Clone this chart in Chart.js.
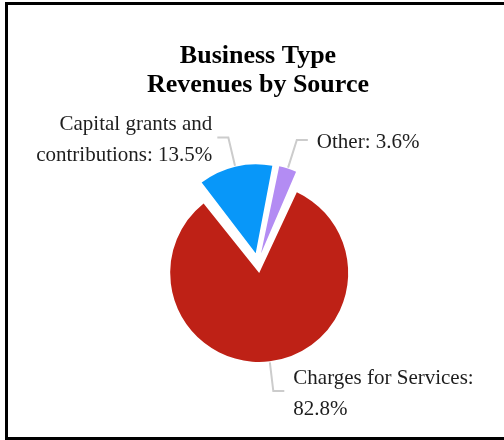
<!DOCTYPE html>
<html>
<head>
<meta charset="utf-8">
<title>Business Type Revenues by Source</title>
<script src="https://cdn.jsdelivr.net/npm/chart.js@4.4.1/dist/chart.umd.min.js"></script>
<style>
  html, body { margin: 0; padding: 0; background: #fff; }
  #wrap { position: relative; width: 504px; height: 440px; overflow: hidden; }
  canvas { display: block; }
  /* frame runs off the right edge */
  #frame {
    position: absolute; left: 5px; top: 2px; width: 510px; height: 432px;
    border: 3px solid #000; border-right: none; pointer-events: none;
  }
</style>
</head>
<body>
<div id="wrap">
  <canvas id="chart" width="504" height="440"></canvas>
  <div id="frame"></div>
</div>
<script>
const TITLE = ["Business Type", "Revenues by Source"];
const SOURCES = ["Charges for Services", "Capital grants and contributions", "Other"];
const SHARES = [82.8, 13.5, 3.6];
const COLORS = ["#be2116", "#0897f9", "#b38cf3"];
// label text per slice, {v} gets the share
const LABEL_LINES = [
  ["Charges for Services:", "{v}%"],
  ["Capital grants and", "contributions: {v}%"],
  ["Other: {v}%"],
];

const RADIUS = 89;
const PULL = 10; // how far each slice is pulled out

// Chart.js grows small pulled-out arcs a bit; keep every slice at RADIUS
const evenPull = {
  id: "evenPull",
  afterDatasetUpdate(chart, args) {
    args.meta.data.forEach(arc => {
      const fix = 1 - Math.sin(Math.min(Math.PI, arc.circumference));
      arc.outerRadius = RADIUS - PULL * fix;
    });
  }
};

// leader lines with the labels at their ends
const leaderLabels = {
  id: "leaderLabels",
  afterDatasetsDraw(chart) {
    const ctx = chart.ctx;
    const arcs = chart.getDatasetMeta(0).data;
    ctx.save();
    ctx.font = "21px 'Liberation Serif', 'Times New Roman', serif";
    ctx.textBaseline = "alphabetic";
    arcs.forEach((arc, i) => {
      const mid = (arc.startAngle + arc.endAngle) / 2;
      const cos = Math.cos(mid), sin = Math.sin(mid);
      const cx = arc.x + cos * PULL, cy = arc.y + sin * PULL;
      const x0 = cx + cos * (RADIUS + 1), y0 = cy + sin * (RADIUS + 1);
      const x1 = cx + cos * (RADIUS + 30), y1 = cy + sin * (RADIUS + 30);
      const dir = cos >= 0 ? 1 : -1;
      const x2 = x1 + dir * 11;

      ctx.strokeStyle = "#cccccc";
      ctx.lineWidth = 2;
      ctx.beginPath();
      ctx.moveTo(x0, y0);
      ctx.lineTo(x1, y1);
      ctx.lineTo(x2, y1);
      ctx.stroke();

      const lines = LABEL_LINES[i].map(s => s.replace("{v}", SHARES[i].toFixed(1)));
      ctx.fillStyle = "#1e1e1e";
      ctx.textAlign = dir > 0 ? "left" : "right";
      const tx = x2 + (dir > 0 ? 9 : -5);
      lines.forEach((s, k) => ctx.fillText(s, tx, y1 + 8.5 + (k - (lines.length - 1) / 2) * 31));
    });
    ctx.restore();
  }
};

new Chart(document.getElementById("chart"), {
  type: "pie",
  data: {
    labels: SOURCES,
    datasets: [{
      data: SHARES,
      backgroundColor: COLORS,
      borderWidth: 0,
      offset: PULL * 4,
    }],
  },
  options: {
    responsive: false,
    devicePixelRatio: 1,
    animation: false,
    events: [],
    rotation: 24,
    radius: RADIUS,
    layout: { padding: { left: 12, right: 0, top: 0, bottom: 14 } },
    plugins: {
      legend: { display: false },
      tooltip: { enabled: false },
      title: {
        display: true,
        text: TITLE,
        color: "#000",
        font: { family: "'Liberation Serif', 'Times New Roman', serif", size: 26, weight: "bold", lineHeight: 1.115 },
        padding: { top: 42, bottom: 0 },
      },
    },
  },
  plugins: [evenPull, leaderLabels],
});
</script>
</body>
</html>
